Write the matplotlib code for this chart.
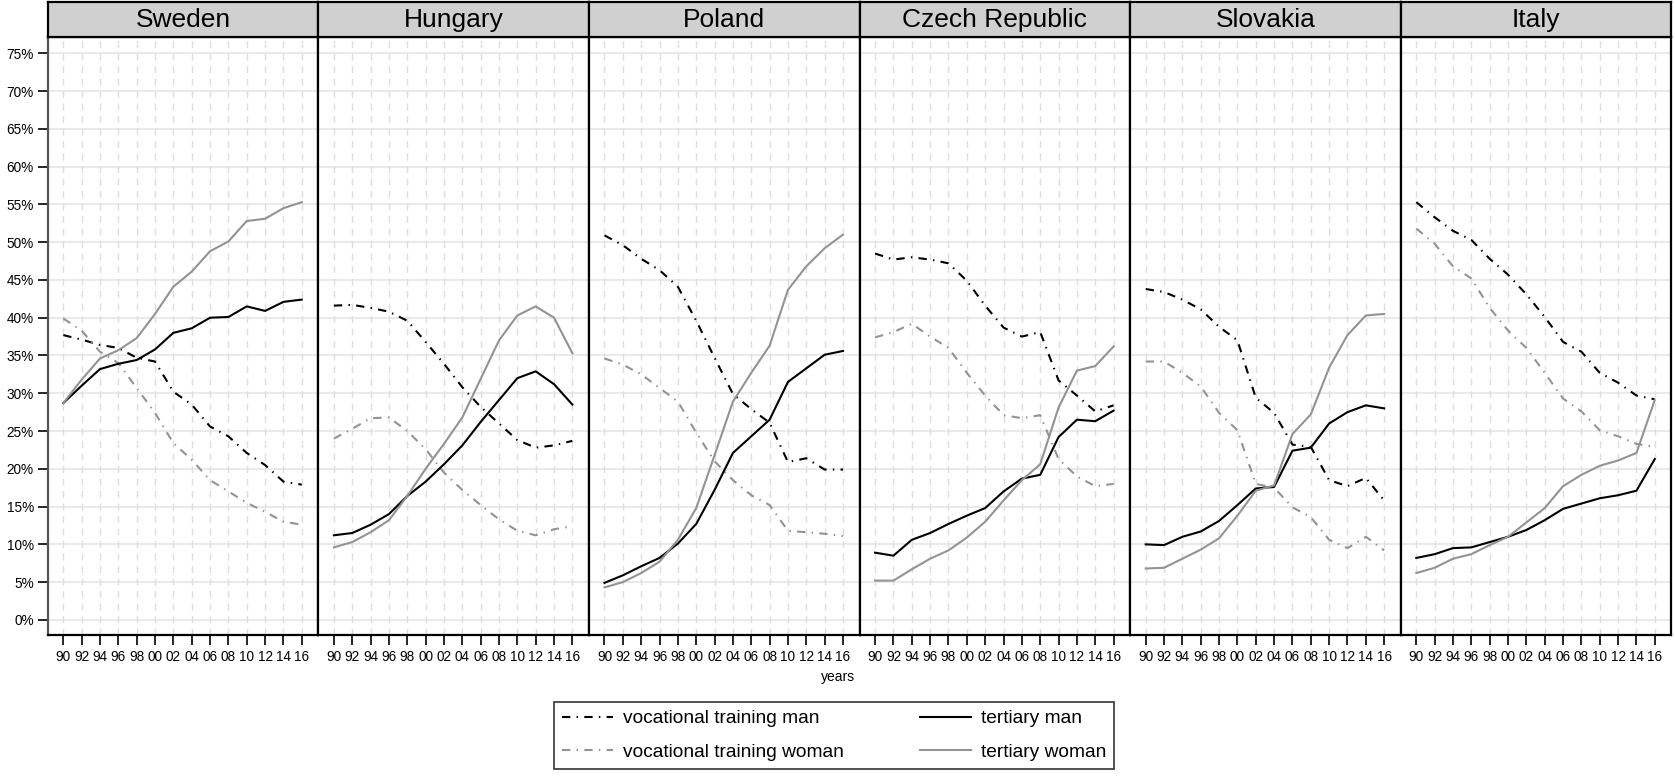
import matplotlib
matplotlib.use("Agg")
import matplotlib.pyplot as plt
from matplotlib.ticker import FixedLocator

plt.rcParams['font.family'] = ['Liberation Sans', 'DejaVu Sans']

# --- data (share of population, %), every second year 1990-2016 ---
years = [1990, 1992, 1994, 1996, 1998, 2000, 2002, 2004, 2006, 2008, 2010, 2012, 2014, 2016]
year_labels = ['90', '92', '94', '96', '98', '00', '02', '04', '06', '08', '10', '12', '14', '16']
countries = ['Sweden', 'Hungary', 'Poland', 'Czech Republic', 'Slovakia', 'Italy']

voc_man = {
    'Sweden':         [37.7, 37.1, 36.4, 36.0, 34.7, 34.2, 30.2, 28.5, 25.6, 24.3, 22.1, 20.5, 18.3, 17.9],
    'Hungary':        [41.6, 41.7, 41.3, 40.8, 39.6, 36.8, 33.9, 30.8, 28.2, 26.0, 23.8, 22.8, 23.1, 23.7],
    'Poland':         [50.9, 49.6, 47.8, 46.3, 44.1, 39.6, 34.7, 29.9, 27.9, 26.1, 20.9, 21.4, 19.9, 19.9],
    'Czech Republic': [48.5, 47.7, 48.0, 47.7, 47.2, 44.9, 41.6, 38.7, 37.5, 38.1, 31.7, 29.7, 27.6, 28.4],
    'Slovakia':       [43.8, 43.4, 42.4, 41.1, 38.8, 37.0, 29.4, 27.4, 23.2, 22.9, 18.5, 17.7, 18.8, 15.8],
    'Italy':          [55.3, 53.3, 51.5, 50.3, 47.8, 45.7, 43.1, 40.1, 36.8, 35.5, 32.7, 31.4, 29.7, 29.2],
}
voc_woman = {
    'Sweden':         [39.9, 38.3, 35.5, 34.0, 30.7, 27.4, 23.4, 21.2, 18.5, 17.0, 15.5, 14.3, 13.0, 12.6],
    'Hungary':        [24.0, 25.3, 26.7, 26.8, 25.0, 22.6, 19.5, 17.2, 15.2, 13.3, 11.8, 11.2, 12.0, 12.4],
    'Poland':         [34.6, 33.8, 32.5, 30.7, 28.9, 24.8, 21.0, 18.5, 16.5, 15.2, 11.8, 11.6, 11.4, 11.1],
    'Czech Republic': [37.4, 38.1, 39.2, 37.5, 36.0, 32.7, 29.7, 27.1, 26.7, 27.1, 21.3, 19.0, 17.7, 18.0],
    'Slovakia':       [34.2, 34.2, 32.7, 30.9, 27.4, 25.1, 18.0, 17.5, 14.9, 13.6, 10.6, 9.5, 11.0, 9.2],
    'Italy':          [51.8, 49.8, 46.8, 45.2, 41.3, 38.3, 36.0, 32.7, 29.3, 27.6, 25.1, 24.3, 23.3, 22.9],
}
ter_man = {
    'Sweden':         [28.7, 31.0, 33.2, 33.9, 34.4, 35.8, 38.0, 38.6, 40.0, 40.1, 41.5, 40.9, 42.1, 42.4],
    'Hungary':        [11.2, 11.5, 12.6, 14.0, 16.4, 18.3, 20.6, 23.1, 26.2, 29.1, 32.0, 32.9, 31.2, 28.5],
    'Poland':         [4.9, 5.9, 7.1, 8.2, 10.1, 12.7, 17.2, 22.1, 24.3, 26.5, 31.5, 33.3, 35.1, 35.6],
    'Czech Republic': [8.9, 8.5, 10.6, 11.5, 12.7, 13.8, 14.8, 17.0, 18.7, 19.2, 24.2, 26.5, 26.3, 27.7],
    'Slovakia':       [10.0, 9.9, 11.0, 11.7, 13.1, 15.2, 17.4, 17.6, 22.4, 22.8, 26.0, 27.5, 28.4, 28.0],
    'Italy':          [8.2, 8.7, 9.5, 9.6, 10.3, 11.0, 11.9, 13.2, 14.7, 15.4, 16.1, 16.5, 17.1, 21.3],
}
ter_woman = {
    'Sweden':         [28.7, 31.8, 34.6, 35.7, 37.3, 40.5, 44.1, 46.1, 48.8, 50.1, 52.8, 53.1, 54.5, 55.3],
    'Hungary':        [9.6, 10.3, 11.6, 13.2, 16.4, 20.0, 23.3, 26.8, 31.9, 37.0, 40.3, 41.5, 40.0, 35.3],
    'Poland':         [4.3, 5.0, 6.2, 7.7, 10.6, 14.8, 21.8, 28.9, 32.7, 36.3, 43.7, 46.8, 49.2, 51.0],
    'Czech Republic': [5.2, 5.2, 6.7, 8.1, 9.2, 10.9, 13.0, 15.8, 18.5, 20.6, 28.1, 33.0, 33.6, 36.2],
    'Slovakia':       [6.8, 6.9, 8.1, 9.3, 10.8, 13.8, 17.1, 17.8, 24.6, 27.2, 33.4, 37.7, 40.3, 40.5],
    'Italy':          [6.2, 6.9, 8.1, 8.7, 9.9, 11.0, 12.9, 14.8, 17.7, 19.2, 20.4, 21.1, 22.1, 29.1],
}
y_ticks = list(range(0, 80, 5))

# --- layout in pixels of the 1675x779 picture ---
W, H = 1675, 779
LEFT, PANEL_W = 47.7, 270.6
PLOT_TOP, PLOT_BOT = 36.7, 635.0
STRIP_TOP = 2.0

GREY = '#939393'
DASHDOT = (0, (4, 3, 0.7, 3))

fig = plt.figure(figsize=(W / 100, H / 100), dpi=100)

handles = None
for i, c in enumerate(countries):
    x0 = (LEFT + i * PANEL_W) / W
    ax = fig.add_axes([x0, (H - PLOT_BOT) / H, PANEL_W / W, (PLOT_BOT - PLOT_TOP) / H])
    # grid
    for v in y_ticks:
        ax.axhline(v, color='#e4e4e4', lw=1.1, zorder=0)
    for yr in years:
        ax.axvline(yr, color='#dedede', lw=1.0, ls=(0, (5, 4)), zorder=0)

    l1, = ax.plot(years, voc_man[c], color='black', lw=1.5, ls=DASHDOT, label='vocational training man')
    l2, = ax.plot(years, voc_woman[c], color=GREY, lw=1.5, ls=DASHDOT, label='vocational training woman')
    l3, = ax.plot(years, ter_man[c], color='black', lw=1.5, label='tertiary man')
    l4, = ax.plot(years, ter_woman[c], color=GREY, lw=1.5, label='tertiary woman')
    handles = [l1, l2, l3, l4]

    ax.set_xlim(1988.3, 2017.8)
    ax.set_ylim(-2.0, 77.2)
    ax.xaxis.set_major_locator(FixedLocator(years))
    ax.set_xticklabels(year_labels, fontsize=9.8)
    ax.tick_params(axis='x', length=7, width=1.2, pad=4, color='black')
    if i == 0:
        ax.yaxis.set_major_locator(FixedLocator(y_ticks))
        ax.set_yticklabels([f'{v}%' for v in y_ticks], fontsize=9.8)
        ax.tick_params(axis='y', length=7, width=1.2, pad=3, color='black')
    else:
        ax.set_yticks([])
    for s in ax.spines.values():
        s.set_linewidth(1.6)
        s.set_color('black')
    if i == 0:
        ax.spines['left'].set_color('#555555')

    # strip header
    hx = fig.add_axes([x0, (H - PLOT_TOP) / H, PANEL_W / W, (PLOT_TOP - STRIP_TOP) / H])
    hx.set_facecolor('#d0d0d0')
    hx.set_xticks([])
    hx.set_yticks([])
    for s in hx.spines.values():
        s.set_linewidth(1.6)
        s.set_color('black')
    hx.text(0.5, 0.47, c, ha='center', va='center', fontsize=19, transform=hx.transAxes)

fig.text(W / 2 / W, (H - 677) / H, 'years', ha='center', va='center', fontsize=10)

leg = fig.legend(handles=handles, ncol=2, loc='center',
                 bbox_to_anchor=(554 / W, (H - 771) / H, 560 / W, 71 / H),
                 mode='expand', fontsize=13.8, frameon=True, fancybox=False,
                 edgecolor='black', handlelength=2.7, handletextpad=0.5,
                 borderpad=0.4, labelspacing=0.85, borderaxespad=0)
leg.get_frame().set_linewidth(1.2)

fig.savefig('out.png', dpi=100)
